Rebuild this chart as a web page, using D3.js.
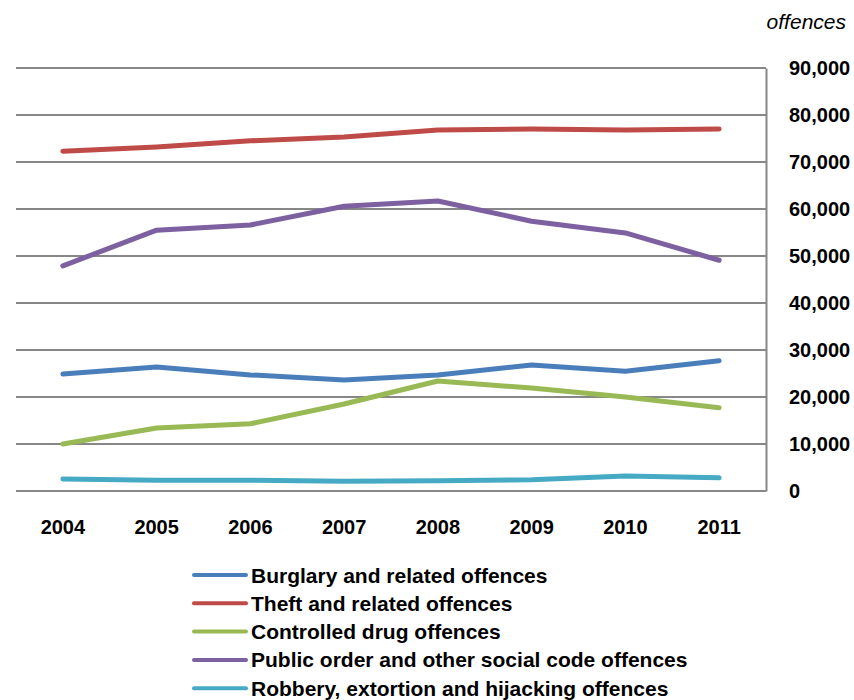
<!DOCTYPE html>
<html>
<head>
<meta charset="utf-8">
<script src="https://cdn.jsdelivr.net/npm/d3@7"></script>
<style>
  body { margin: 0; background: #fff; }
  text { font-family: "Liberation Sans", Arial, sans-serif; }
</style>
</head>
<body>
<div id="container"></div>
<script>
/* DATA */
const years = ["2004", "2005", "2006", "2007", "2008", "2009", "2010", "2011"];
const burglary = [24900, 26400, 24700, 23600, 24700, 26800, 25500, 27700];
const theft = [72300, 73200, 74500, 75300, 76800, 77000, 76800, 77000];
const drugs = [10000, 13400, 14300, 18500, 23400, 21900, 20000, 17700];
const publicOrder = [47900, 55500, 56600, 60600, 61700, 57400, 54900, 49100];
const robbery = [2550, 2300, 2300, 2100, 2200, 2400, 3200, 2800];
const yTicks = [0, 10000, 20000, 30000, 40000, 50000, 60000, 70000, 80000, 90000];

const seriesNames = [
  "Burglary and related offences",
  "Theft and related offences",
  "Controlled drug offences",
  "Public order and other social code offences",
  "Robbery, extortion and hijacking offences"
];
const seriesValues = [burglary, theft, drugs, publicOrder, robbery];
const colors = ["#4a7ebb", "#be4b48", "#98b954", "#7d60a0", "#46aac5"];

/* CONSTANTS */
const width = 854, height = 700;
const plotLeft = 16, plotRight = 766, plotTop = 68, plotBottom = 491;

const svg = d3.select("#container")
  .append("svg")
  .attr("width", width)
  .attr("height", height);

/* SCALES */
const xScale = d3.scaleBand()
  .domain(years)
  .range([plotLeft, plotRight]);

const yScale = d3.scaleLinear()
  .domain([0, 90000])
  .range([plotBottom, plotTop]);

// gridlines
svg.append("g")
  .selectAll("line")
  .data(yTicks)
  .join("line")
  .attr("x1", plotLeft)
  .attr("x2", plotRight)
  .attr("y1", d => yScale(d))
  .attr("y2", d => yScale(d))
  .attr("stroke", "#878787")
  .attr("stroke-width", 2);

// right axis
const yAxis = d3.axisRight(yScale)
  .tickValues(yTicks)
  .tickSize(0)
  .tickSizeOuter(0)
  .tickPadding(23)
  .tickFormat(d3.format(","));

svg.append("g")
  .attr("transform", `translate(${plotRight},0)`)
  .call(yAxis)
  .call(g => g.select(".domain").attr("stroke", "#878787").attr("stroke-width", 2))
  .call(g => g.selectAll("text")
    .attr("font-size", 20)
    .attr("font-weight", "bold")
    .attr("fill", "#000")
    .attr("font-family", "Liberation Sans, Arial, sans-serif"));

// x labels
const xAxis = d3.axisBottom(xScale).tickSize(0).tickPadding(29);
svg.append("g")
  .attr("transform", `translate(0,${plotBottom})`)
  .call(xAxis)
  .call(g => g.select(".domain").remove())
  .call(g => g.selectAll("text")
    .attr("font-size", 20)
    .attr("font-weight", "bold")
    .attr("fill", "#000")
    .attr("font-family", "Liberation Sans, Arial, sans-serif"));

// units
svg.append("text")
  .attr("x", 846)
  .attr("y", 29)
  .attr("text-anchor", "end")
  .attr("font-size", 21)
  .attr("font-style", "italic")
  .text("offences");

// lines
const line = d3.line()
  .x((d, i) => xScale(years[i]) + xScale.bandwidth() / 2)
  .y(d => yScale(d));

svg.append("g")
  .selectAll("path")
  .data(seriesValues)
  .join("path")
  .attr("d", d => line(d))
  .attr("fill", "none")
  .attr("stroke", (d, i) => colors[i])
  .attr("stroke-width", 5)
  .attr("stroke-linecap", "round")
  .attr("stroke-linejoin", "round");

// legend
const legend = svg.append("g")
  .selectAll("g")
  .data(seriesNames)
  .join("g")
  .attr("transform", (d, i) => `translate(194,${575 + i * 28.3})`);

legend.append("line")
  .attr("x1", 0)
  .attr("x2", 52)
  .attr("stroke", (d, i) => colors[i])
  .attr("stroke-width", 4)
  .attr("stroke-linecap", "round");

legend.append("text")
  .attr("x", 57)
  .attr("dy", "0.36em")
  .attr("font-size", 21)
  .attr("font-weight", "bold")
  .text(d => d);
</script>
</body>
</html>
